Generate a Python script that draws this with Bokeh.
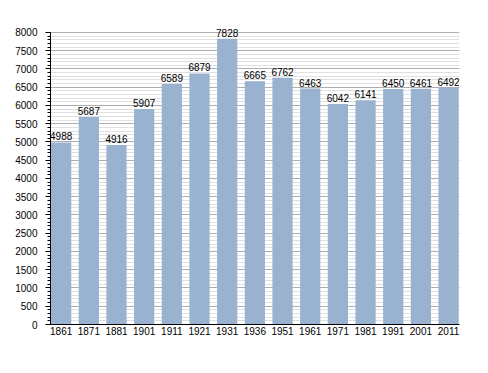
from bokeh.plotting import figure
from bokeh.models import ColumnDataSource, Range1d, FixedTicker, SingleIntervalTicker, LabelSet
from bokeh.core.properties import value
from bokeh.embed import file_html
from bokeh.resources import INLINE

years = ["1861", "1871", "1881", "1901", "1911", "1921", "1931", "1936",
         "1951", "1961", "1971", "1981", "1991", "2001", "2011"]
population = [4988, 5687, 4916, 5907, 6589, 6879, 7828, 6665,
              6762, 6463, 6042, 6141, 6450, 6461, 6492]

idx = list(range(len(years)))
src = ColumnDataSource(dict(x=idx, y=population, lab=[str(v) for v in population]))

bw = 0.73
p = figure(width=470, height=350, output_backend="svg", toolbar_location=None,
           x_range=Range1d(-bw / 2 - 0.02, len(years) - 1 + bw / 2 + 0.03),
           y_range=Range1d(0, 8438),
           min_border_left=50, min_border_right=11, min_border_top=16, min_border_bottom=26)
p.outline_line_color = None
p.background_fill_color = "white"

p.vbar(x="x", top="y", width=bw, source=src, fill_color="#98b2d0", line_color=None)

labels = LabelSet(x="x", y="y", text="lab", source=src, text_align="center",
                  text_baseline="bottom", y_offset=2, text_font_size="10px",
                  text_font=value("Liberation Sans"), text_color="black")
p.add_layout(labels)

p.yaxis.bounds = (0, 8000)
p.yaxis.ticker = SingleIntervalTicker(interval=500, num_minor_ticks=5)
p.ygrid.ticker = SingleIntervalTicker(interval=500, num_minor_ticks=5)
p.ygrid.bounds = (0, 8000)
p.ygrid.grid_line_color = "#adadad"
p.ygrid.minor_grid_line_color = "#e0e0e0"
p.xgrid.grid_line_color = None

p.yaxis.major_tick_out = 5
p.yaxis.major_tick_in = 0
p.yaxis.minor_tick_out = 3
p.yaxis.minor_tick_in = 0
p.yaxis.major_label_standoff = 8
p.yaxis.axis_line_color = "black"
p.yaxis.major_tick_line_color = "black"
p.yaxis.minor_tick_line_color = "black"

p.xaxis.ticker = FixedTicker(ticks=idx)
p.xaxis.major_label_overrides = {i: y for i, y in zip(idx, years)}
p.xaxis.major_tick_line_color = None
p.xaxis.minor_tick_line_color = None
p.xaxis.major_tick_out = 0
p.xaxis.major_tick_in = 0
p.xaxis.minor_tick_out = 0
p.xaxis.major_label_standoff = 2
p.xaxis.axis_line_color = "black"

for ax in (p.xaxis, p.yaxis):
    ax.major_label_text_font = "Liberation Sans"
    ax.major_label_text_font_size = "10px"
    ax.major_label_text_color = "black"

open("out.html", "w").write(file_html(p, INLINE))
